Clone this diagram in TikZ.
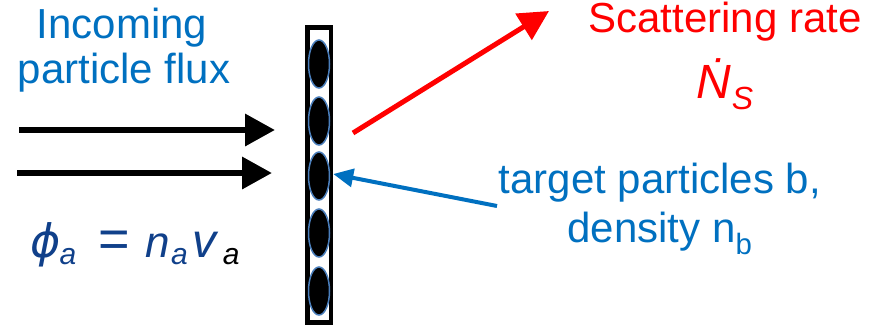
\documentclass[tikz,border=0pt]{standalone}
\usepackage{fontspec}
\setmainfont{Liberation Sans}
\newfontfamily\greekfont{DejaVu Sans}
\usetikzlibrary{arrows.meta,shapes.geometric}
\definecolor{pblue}{RGB}{0,112,192}
\definecolor{pred}{RGB}{255,0,0}
\definecolor{fblue}{RGB}{16,64,138}
\definecolor{ering}{RGB}{74,126,187}
\newcommand{\subsz}{\fontsize{30}{30}\selectfont\itshape}
\begin{document}
\begin{tikzpicture}[x=1pt,y=-1pt,
  lbl/.style={anchor=base,inner sep=0pt,font=\fontsize{42}{48}\selectfont},
  fluxarrow/.style={line width=6.5pt,-{Triangle[length=30pt,width=31pt]}},
  particle/.style={ellipse,minimum width=21pt,minimum height=48pt,inner sep=0pt,fill=black,draw=ering,line width=1.5pt},
  redarrow/.style={pred,line width=5pt,-{Triangle[length=30pt,width=30pt]}},
  bluearrow/.style={pblue,line width=4pt,-{Triangle[length=20pt,width=18pt]}}]
\useasboundingbox (0,0) rectangle (881,325);
% target
\draw[line width=4.5pt] (307.5,27.5) rectangle (331,322.5);
\foreach \i/\y in {1/64,2/121,3/176,4/233,5/291}
  \node[particle] (e\i) at (319,\y) {};
% flux arrows
\coordinate (f1s) at (19,130);
\coordinate (f1e) at (275,130);
\coordinate (f2s) at (17,173);
\coordinate (f2e) at (272,173);
\draw[fluxarrow] (f1s) -- (f1e);
\draw[fluxarrow] (f2s) -- (f2e);
% labels
\node[lbl,pblue] (inc1) at (122,38) {Incoming};
\node[lbl,pblue] (inc2) at (124,83) {particle flux};
\node[lbl,pred] (scat) at (725,32) {Scattering rate};
\node[anchor=base west,inner sep=0pt,pred] (ns) at (696,98)
  {\fontsize{48}{48}\selectfont\itshape \.{N}\kern1pt\raisebox{-11pt}{\fontsize{32}{32}\selectfont S}};
\node[lbl,pblue] (tgt1) at (660,193) {target particles b,};
\node[lbl,pblue] (tgt2) at (660,242) {density n\textsubscript{b}};
\node[anchor=base west,inner sep=0pt,fblue] (phi) at (30,257)
  {{\fontsize{46}{46}\selectfont\greekfont\itshape ϕ}\kern-1pt\raisebox{-7pt}{\subsz a}\kern22pt{\fontsize{54}{54}\selectfont=}\kern16pt{\fontsize{44}{44}\selectfont\itshape n}\kern1pt\raisebox{-7pt}{\subsz a}\kern5pt{\fontsize{48}{48}\selectfont\itshape v}\kern6pt\raisebox{-7pt}{\subsz\color{black}a}};
% scattering arrows
\coordinate (rs) at (353,133);
\coordinate (re) at (549,11);
\draw[redarrow] (rs) -- (re);
\coordinate (bs) at (497,206);
\draw[bluearrow] (bs) -- ([xshift=3pt,yshift=2pt]e3.east);
\end{tikzpicture}
\end{document}
